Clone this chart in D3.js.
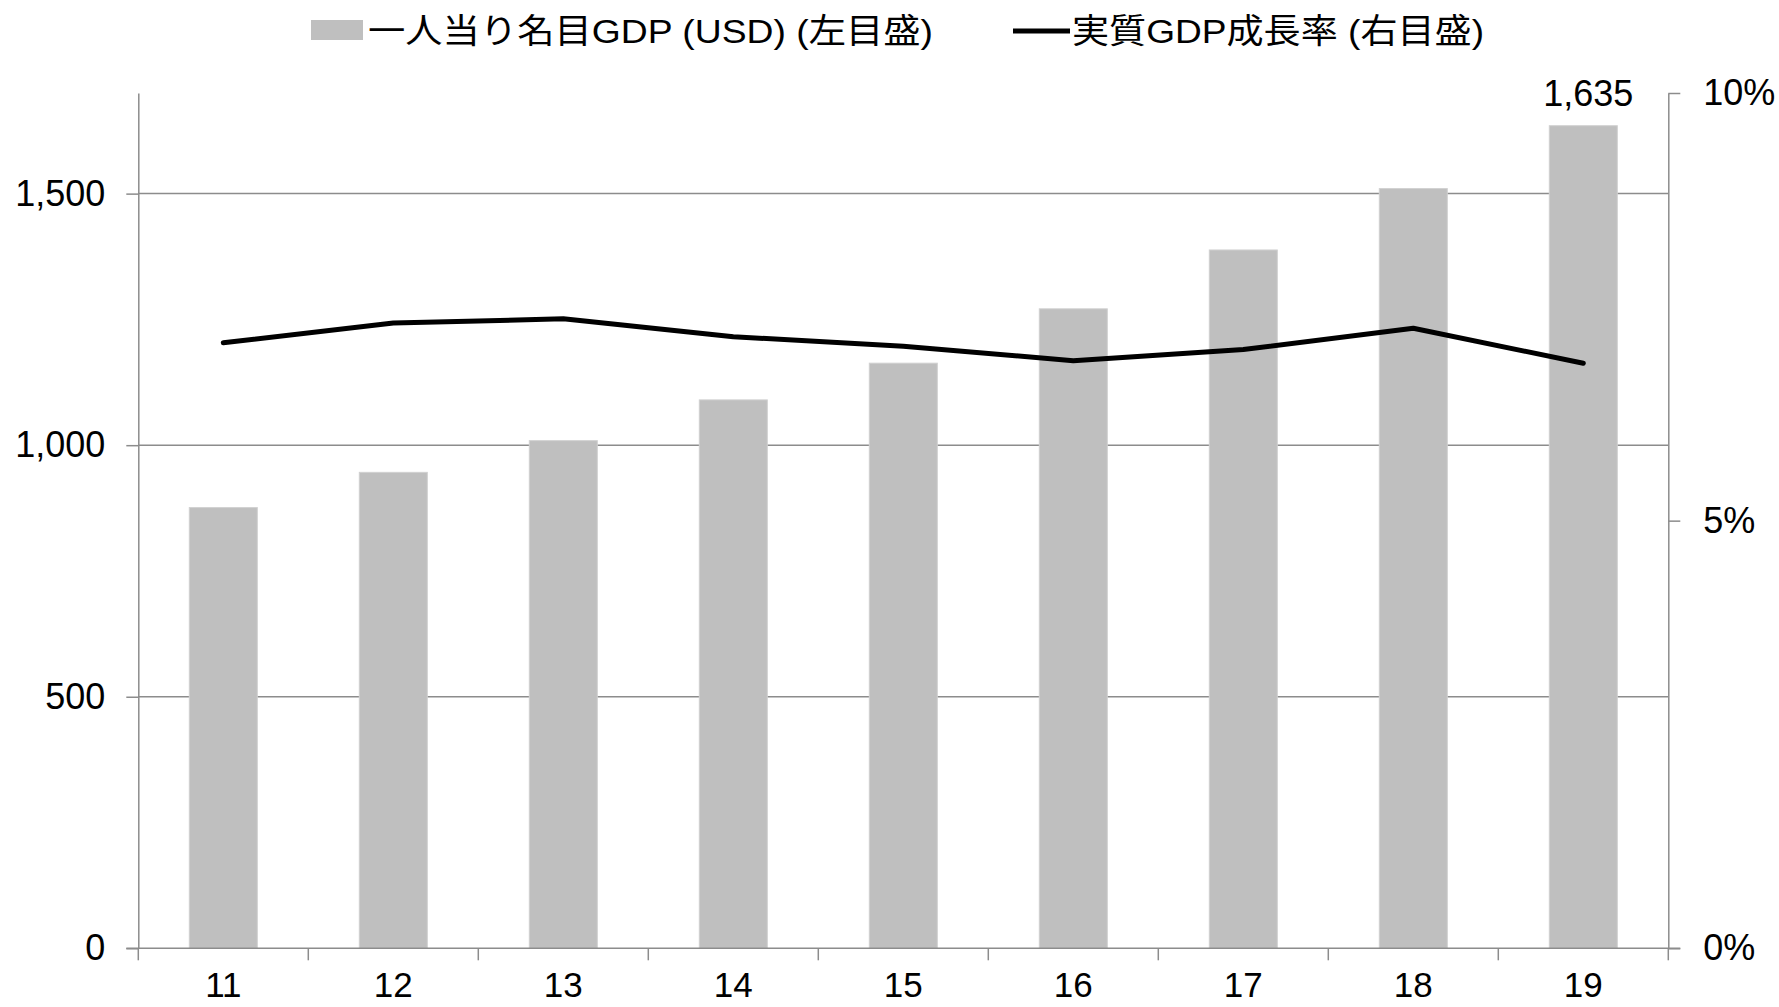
<!DOCTYPE html>
<html>
<head>
<meta charset="utf-8">
<script src="https://cdn.jsdelivr.net/npm/d3@7"></script>
<style>
  body { margin: 0; background: white; }
  svg { display: block; }
</style>
</head>
<body>
<script>
const w = 1779;
const h = 1007;

// data
const years = ['11', '12', '13', '14', '15', '16', '17', '18', '19'];
const gdpPerCapita = [876, 946, 1009, 1090, 1163, 1271, 1388, 1510, 1635];
const growthRate = [7.08, 7.31, 7.36, 7.15, 7.04, 6.87, 7.0, 7.25, 6.84];
const leftTicks = [0, 500, 1000, 1500];
const rightTicks = [0, 5, 10];
const legendLabels = ['一人当り名目GDP (USD) (左目盛)', '実質GDP成長率 (右目盛)'];

const numFont = '"Liberation Sans", Arial, sans-serif';
const jpFont = '"Liberation Sans", "Noto Sans CJK JP", sans-serif';

const plotLeft = 138.3, plotRight = 1668.3, plotTop = 93, plotBottom = 948.3;

const svg = d3.select('body')
  .append('svg')
  .attr('width', w)
  .attr('height', h)
  .style('background-color', 'white');

const x = d3.scaleBand()
  .domain(years)
  .range([plotLeft, plotRight])
  .paddingInner(0.6)
  .paddingOuter(0.3);

const y = d3.scaleLinear().domain([0, 1700]).range([plotBottom, plotTop]);
const y2 = d3.scaleLinear().domain([0, 10]).range([plotBottom, plotTop]);

// gridlines
svg.append('g')
  .selectAll('line')
  .data(leftTicks.filter(d => d > 0))
  .enter()
  .append('line')
  .attr('x1', plotLeft)
  .attr('x2', plotRight)
  .attr('y1', d => y(d))
  .attr('y2', d => y(d))
  .style('stroke', '#8c8c8c')
  .style('stroke-width', 1.5);

// bars
svg.append('g')
  .selectAll('rect')
  .data(gdpPerCapita)
  .enter()
  .append('rect')
  .attr('x', (d, i) => x(years[i]))
  .attr('width', x.bandwidth())
  .attr('y', d => y(d))
  .attr('height', d => plotBottom - y(d))
  .style('fill', '#bfbfbf')
  .style('stroke', '#d0d0d0')
  .style('stroke-width', 1);

// value label on last bar
const last = gdpPerCapita.length - 1;
svg.append('text')
  .attr('x', x(years[last]) + x.bandwidth() / 2 + 5)
  .attr('y', y(gdpPerCapita[last]) - 20)
  .attr('text-anchor', 'middle')
  .text(d3.format(',')(gdpPerCapita[last]))
  .style('font-family', numFont)
  .style('font-size', '36px')
  .style('fill', '#000');

// growth line
const line = d3.line()
  .x((d, i) => x(years[i]) + x.bandwidth() / 2)
  .y(d => y2(d));

svg.append('path')
  .datum(growthRate)
  .attr('d', line)
  .style('fill', 'none')
  .style('stroke', '#000')
  .style('stroke-width', 5)
  .style('stroke-linecap', 'round')
  .style('stroke-linejoin', 'round');

function styleAxis(g) {
  g.selectAll('.domain').style('stroke', '#8c8c8c').style('stroke-width', 1.5);
  g.selectAll('.tick line').style('stroke', '#8c8c8c').style('stroke-width', 1.5);
  g.selectAll('text')
    .style('font-family', numFont)
    .style('font-size', '36px')
    .style('fill', '#000');
}

// left axis
svg.append('g')
  .attr('transform', `translate(${plotLeft},0)`)
  .call(d3.axisLeft(y).tickValues(leftTicks).tickSize(12).tickPadding(21)
    .tickFormat(d3.format(',')).tickSizeOuter(0))
  .call(styleAxis);

// right axis
svg.append('g')
  .attr('transform', `translate(${plotRight},0)`)
  .call(d3.axisRight(y2).tickValues(rightTicks).tickSize(12).tickPadding(23)
    .tickFormat(d => d + '%').tickSizeOuter(0))
  .call(styleAxis);

// x axis: labels at centres, ticks at category boundaries
const xAxis = svg.append('g')
  .attr('transform', `translate(0,${plotBottom})`)
  .call(d3.axisBottom(x).tickSize(0).tickPadding(24).tickSizeOuter(0))
  .call(styleAxis);
xAxis.select('.domain').attr('d', `M${plotLeft - 12},0H${plotRight + 12}`);
xAxis.selectAll('text').style('font-size', '35px');

const bounds = years.map(d => x(d) - x.paddingOuter() * x.step()).concat([plotRight]);
svg.append('g')
  .selectAll('line')
  .data(bounds)
  .enter()
  .append('line')
  .attr('x1', d => d)
  .attr('x2', d => d)
  .attr('y1', plotBottom)
  .attr('y2', plotBottom + 12)
  .style('stroke', '#8c8c8c')
  .style('stroke-width', 1.5);

// legend
const legend = svg.append('g').attr('id', 'legend');
legend.append('rect')
  .attr('x', 311)
  .attr('y', 20)
  .attr('width', 52)
  .attr('height', 20)
  .style('fill', '#bfbfbf');
legend.append('text')
  .attr('x', 368)
  .attr('y', 43)
  .attr('textLength', 565)
  .attr('lengthAdjust', 'spacingAndGlyphs')
  .text(legendLabels[0])
  .style('font-family', jpFont)
  .style('font-size', '34px');

legend.append('line')
  .attr('x1', 1013)
  .attr('x2', 1070)
  .attr('y1', 31)
  .attr('y2', 31)
  .style('stroke', '#000')
  .style('stroke-width', 5);
legend.append('text')
  .attr('x', 1072)
  .attr('y', 43)
  .attr('textLength', 412)
  .attr('lengthAdjust', 'spacingAndGlyphs')
  .text(legendLabels[1])
  .style('font-family', jpFont)
  .style('font-size', '34px');
</script>
</body>
</html>
